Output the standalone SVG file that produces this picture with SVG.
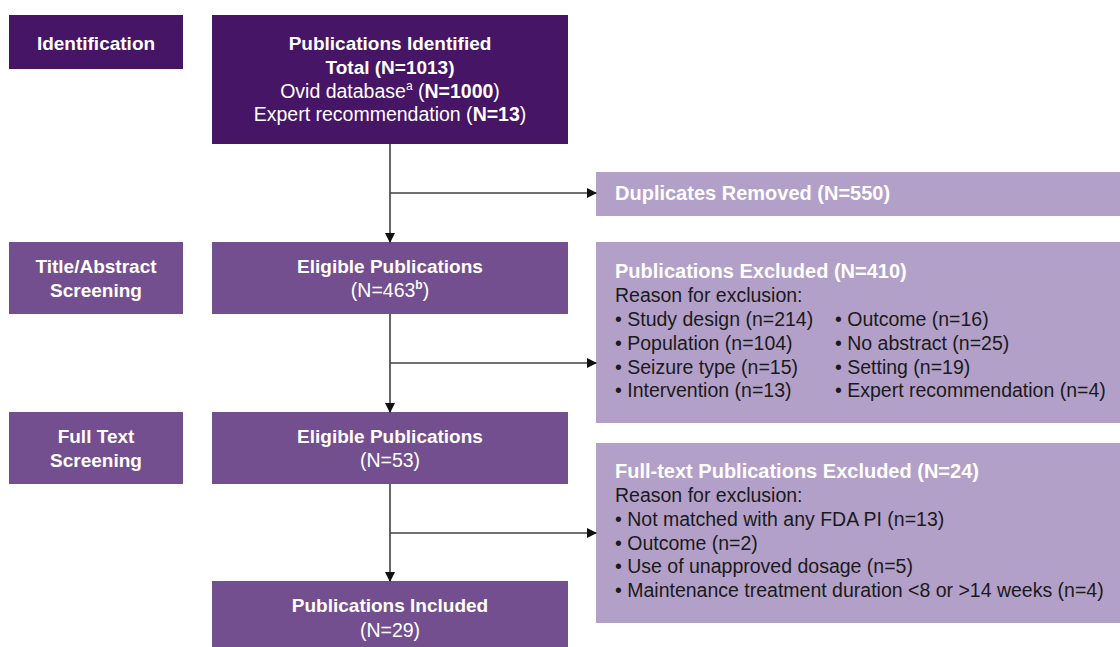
<svg xmlns="http://www.w3.org/2000/svg" width="1120" height="647" viewBox="0 0 1120 647">
<style>
.dark{fill:#461565}
.mid{fill:#744f90}
.light{fill:#b3a0c9}
text{font-family:"Liberation Sans",Arial,sans-serif}
.t{font-size:19px;font-weight:bold;fill:#ffffff;text-anchor:middle}
.r{font-size:19.5px;fill:#ffffff;text-anchor:middle}
.h{font-size:20px;font-weight:bold;fill:#ffffff}
.b{font-size:19.5px;fill:#1a1a1a}
.ln{stroke:#404040;stroke-width:1.6;fill:none}
</style>
<defs>
<marker id="ah" markerWidth="10" markerHeight="10" refX="9" refY="5" orient="auto" markerUnits="userSpaceOnUse">
<path d="M0,0 L10,5 L0,10 Z" fill="#111"/>
</marker>
</defs>
<rect width="1120" height="647" fill="#ffffff"/>

<g id="stage-identification">
<rect class="dark" x="9" y="15" width="174" height="54"/>
<text class="t" x="96" y="50">Identification</text>
</g>
<g id="stage-title-abstract">
<rect class="mid" x="9" y="242" width="174" height="72"/>
<text class="t" x="96" y="273">Title/Abstract</text>
<text class="t" x="96" y="297">Screening</text>
</g>
<g id="stage-full-text">
<rect class="mid" x="9" y="412" width="174" height="72"/>
<text class="t" x="96" y="443">Full Text</text>
<text class="t" x="96" y="467">Screening</text>
</g>

<g id="pub-identified">
<rect class="dark" x="212" y="15" width="356" height="129"/>
<text class="t" x="390" y="50">Publications Identified</text>
<text class="t" x="390" y="74">Total (N=1013)</text>
<text class="r" x="390" y="98" font-size="20">Ovid database<tspan font-size="12" dy="-8">a</tspan><tspan dy="8"> (</tspan><tspan font-weight="bold">N=1000</tspan>)</text>
<text class="r" x="390" y="121" font-size="20">Expert recommendation (<tspan font-weight="bold">N=13</tspan>)</text>
</g>

<g id="eligible-1">
<rect class="mid" x="212" y="242" width="356" height="72"/>
<text class="t" x="390" y="273">Eligible Publications</text>
<text class="r" x="390" y="297">(N=463<tspan font-size="12" font-weight="bold" dy="-8">b</tspan><tspan dy="8">)</tspan></text>
</g>

<g id="eligible-2">
<rect class="mid" x="212" y="412" width="356" height="72"/>
<text class="t" x="390" y="443">Eligible Publications</text>
<text class="r" x="390" y="467">(N=53)</text>
</g>

<g id="included">
<rect class="mid" x="212" y="581" width="356" height="66"/>
<text class="t" x="390" y="612">Publications Included</text>
<text class="r" x="390" y="637">(N=29)</text>
</g>

<g id="duplicates">
<rect class="light" x="596" y="172" width="524" height="44"/>
<text class="h" x="615" y="200" font-size="20.5">Duplicates Removed (N=550)</text>
</g>

<g id="excluded-1">
<rect class="light" x="596" y="242" width="524" height="181"/>
<text class="h" x="615" y="278">Publications Excluded (N=410)</text>
<text class="b" x="615" y="302">Reason for exclusion:</text>
<text class="b" x="615" y="326">• Study design (n=214)</text>
<text class="b" x="615" y="350">• Population (n=104)</text>
<text class="b" x="615" y="374">• Seizure type (n=15)</text>
<text class="b" x="615" y="397">• Intervention (n=13)</text>
<text class="b" x="835" y="326">• Outcome (n=16)</text>
<text class="b" x="835" y="350">• No abstract (n=25)</text>
<text class="b" x="835" y="374">• Setting (n=19)</text>
<text class="b" x="835" y="397">• Expert recommendation (n=4)</text>
</g>

<g id="excluded-2">
<rect class="light" x="596" y="443" width="524" height="180"/>
<text class="h" x="615" y="478">Full-text Publications Excluded (N=24)</text>
<text class="b" x="615" y="502">Reason for exclusion:</text>
<text class="b" x="615" y="526">• Not matched with any FDA PI (n=13)</text>
<text class="b" x="615" y="550">• Outcome (n=2)</text>
<text class="b" x="615" y="573">• Use of unapproved dosage (n=5)</text>
<text class="b" x="615" y="597">• Maintenance treatment duration &lt;8 or &gt;14 weeks (n=4)</text>
</g>

<g id="connectors">
<line class="ln" x1="390" y1="144" x2="390" y2="242" marker-end="url(#ah)"/>
<line class="ln" x1="390" y1="193" x2="596" y2="193" marker-end="url(#ah)"/>
<line class="ln" x1="390" y1="314" x2="390" y2="412" marker-end="url(#ah)"/>
<line class="ln" x1="390" y1="363" x2="596" y2="363" marker-end="url(#ah)"/>
<line class="ln" x1="390" y1="484" x2="390" y2="581" marker-end="url(#ah)"/>
<line class="ln" x1="390" y1="533" x2="596" y2="533" marker-end="url(#ah)"/>
</g>
</svg>
